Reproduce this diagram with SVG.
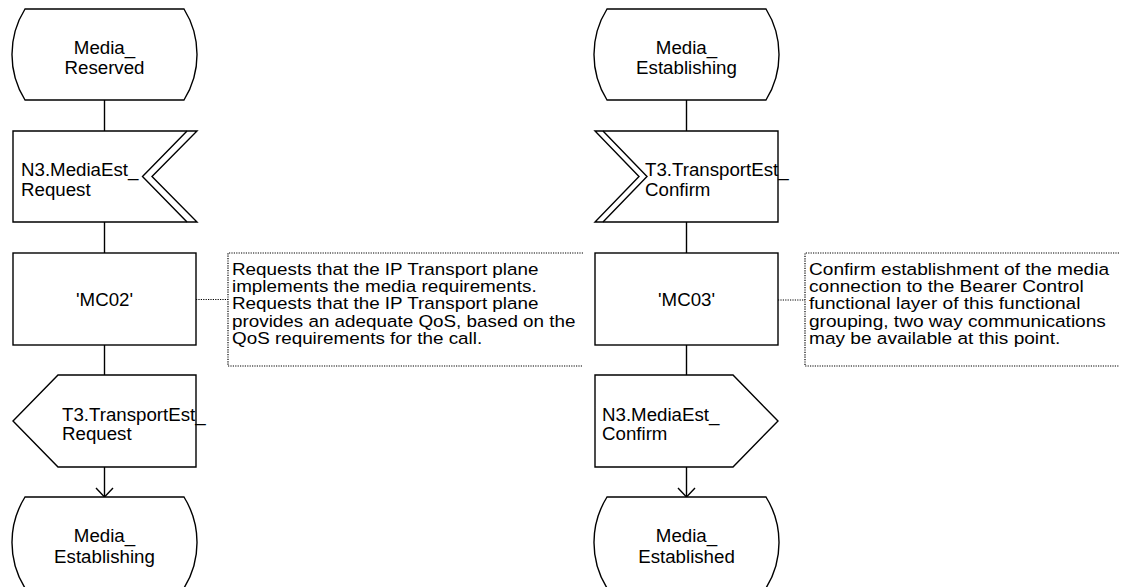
<svg xmlns="http://www.w3.org/2000/svg" width="1122" height="587" viewBox="0 0 1122 587">
<defs>
<style>
.sh{fill:#fff;stroke:#000;stroke-width:1.4;stroke-linejoin:miter}
.ln{fill:none;stroke:#000;stroke-width:1.4}
.dot{fill:none;stroke:#000;stroke-width:1.2;stroke-dasharray:1.2,1.2}
.t{font-family:"Liberation Sans",Arial,sans-serif;font-size:18.7px;fill:#000}
.c{text-anchor:middle}
.cm{font-family:"Liberation Sans",Arial,sans-serif;font-size:16.6px;fill:#000}
</style>
</defs>
<rect x="0" y="0" width="1122" height="587" fill="#fff"/>

<g id="connectors">
<line class="ln" x1="104.5" y1="100" x2="104.5" y2="131"/>
<line class="ln" x1="104.5" y1="222" x2="104.5" y2="253"/>
<line class="ln" x1="104.5" y1="345" x2="104.5" y2="375"/>
<path class="ln" d="M104.5,467 V497"/>
<path class="ln" d="M96,488 L104.5,497 L113,488"/>
<line class="ln" x1="686.5" y1="100" x2="686.5" y2="131"/>
<line class="ln" x1="686.5" y1="222" x2="686.5" y2="253"/>
<line class="ln" x1="686.5" y1="345" x2="686.5" y2="375"/>
<path class="ln" d="M686.5,467 V497"/>
<path class="ln" d="M678,488 L686.5,497 L695,488"/>
<line class="dot" x1="196" y1="299.5" x2="228" y2="299.5"/>
<line class="dot" x1="778" y1="300" x2="805" y2="300"/>
</g>

<g id="state_media_reserved">
<path class="sh" d="M25,9 H184 A86,86 0 0 1 184,100 H25 A86,86 0 0 1 25,9 Z"/>
<text class="t c" x="104.5" y="53.5">Media_</text>
<text class="t c" x="104.5" y="74">Reserved</text>
</g>

<g id="input_n3_mediaest_request">
<path class="sh" d="M13,131 H197 L152,176.5 L197,222 H13 Z"/>
<path class="ln" d="M187,131 L142.5,176.5 L187,222"/>
<text class="t" x="21" y="175.5">N3.MediaEst_</text>
<text class="t" x="21" y="196">Request</text>
</g>

<g id="task_mc02">
<rect class="sh" x="13" y="253" width="183" height="92"/>
<text class="t c" x="104.5" y="306">'MC02'</text>
</g>

<g id="comment_mc02">
<path class="dot" d="M583,253 H228 V366 H583"/>
<g transform="translate(232,0) scale(1.135,1)">
<text class="cm" x="0" y="275">Requests that the IP Transport plane</text>
<text class="cm" x="0" y="292.25">implements the media requirements.</text>
<text class="cm" x="0" y="309.5">Requests that the IP Transport plane</text>
<text class="cm" x="0" y="326.75">provides an adequate QoS, based on the</text>
<text class="cm" x="0" y="344">QoS requirements for the call.</text>
</g>
</g>

<g id="output_t3_transportest_request">
<path class="sh" d="M58,375 H196 V467 H58 L13,421 Z"/>
<text class="t" x="62" y="420.5">T3.TransportEst_</text>
<text class="t" x="62" y="440">Request</text>
</g>

<g id="state_media_establishing_1">
<path class="sh" d="M25,497 H184 A86,86 0 0 1 184,588 H25 A86,86 0 0 1 25,497 Z"/>
<text class="t c" x="104.5" y="542">Media_</text>
<text class="t c" x="104.5" y="562.5">Establishing</text>
</g>

<g id="state_media_establishing_2">
<path class="sh" d="M607,9 H766 A86,86 0 0 1 766,100 H607 A86,86 0 0 1 607,9 Z"/>
<text class="t c" x="686.5" y="53.5">Media_</text>
<text class="t c" x="686.5" y="74">Establishing</text>
</g>

<g id="input_t3_transportest_confirm">
<path class="sh" d="M595,131 H778 V222 H595 L639,176.5 Z"/>
<path class="ln" d="M603,131 L647,176.5 L603,222"/>
<text class="t" x="645" y="175.5">T3.TransportEst_</text>
<text class="t" x="645" y="196">Confirm</text>
</g>

<g id="task_mc03">
<rect class="sh" x="595" y="253" width="183" height="92"/>
<text class="t c" x="686.5" y="306">'MC03'</text>
</g>

<g id="comment_mc03">
<path class="dot" d="M1119,253 H805 V366 H1119"/>
<g transform="translate(809,0) scale(1.15,1)">
<text class="cm" x="0" y="275">Confirm establishment of the media</text>
<text class="cm" x="0" y="292.25">connection to the Bearer Control</text>
<text class="cm" x="0" y="309.5">functional layer of this functional</text>
<text class="cm" x="0" y="326.75">grouping, two way communications</text>
<text class="cm" x="0" y="344">may be available at this point.</text>
</g>
</g>

<g id="output_n3_mediaest_confirm">
<path class="sh" d="M595,375 H733 L778,421 L733,467 H595 Z"/>
<text class="t" x="602" y="420.5">N3.MediaEst_</text>
<text class="t" x="602" y="440">Confirm</text>
</g>

<g id="state_media_established">
<path class="sh" d="M607,497 H766 A86,86 0 0 1 766,588 H607 A86,86 0 0 1 607,497 Z"/>
<text class="t c" x="686.5" y="542">Media_</text>
<text class="t c" x="686.5" y="562.5">Established</text>
</g>
</svg>
